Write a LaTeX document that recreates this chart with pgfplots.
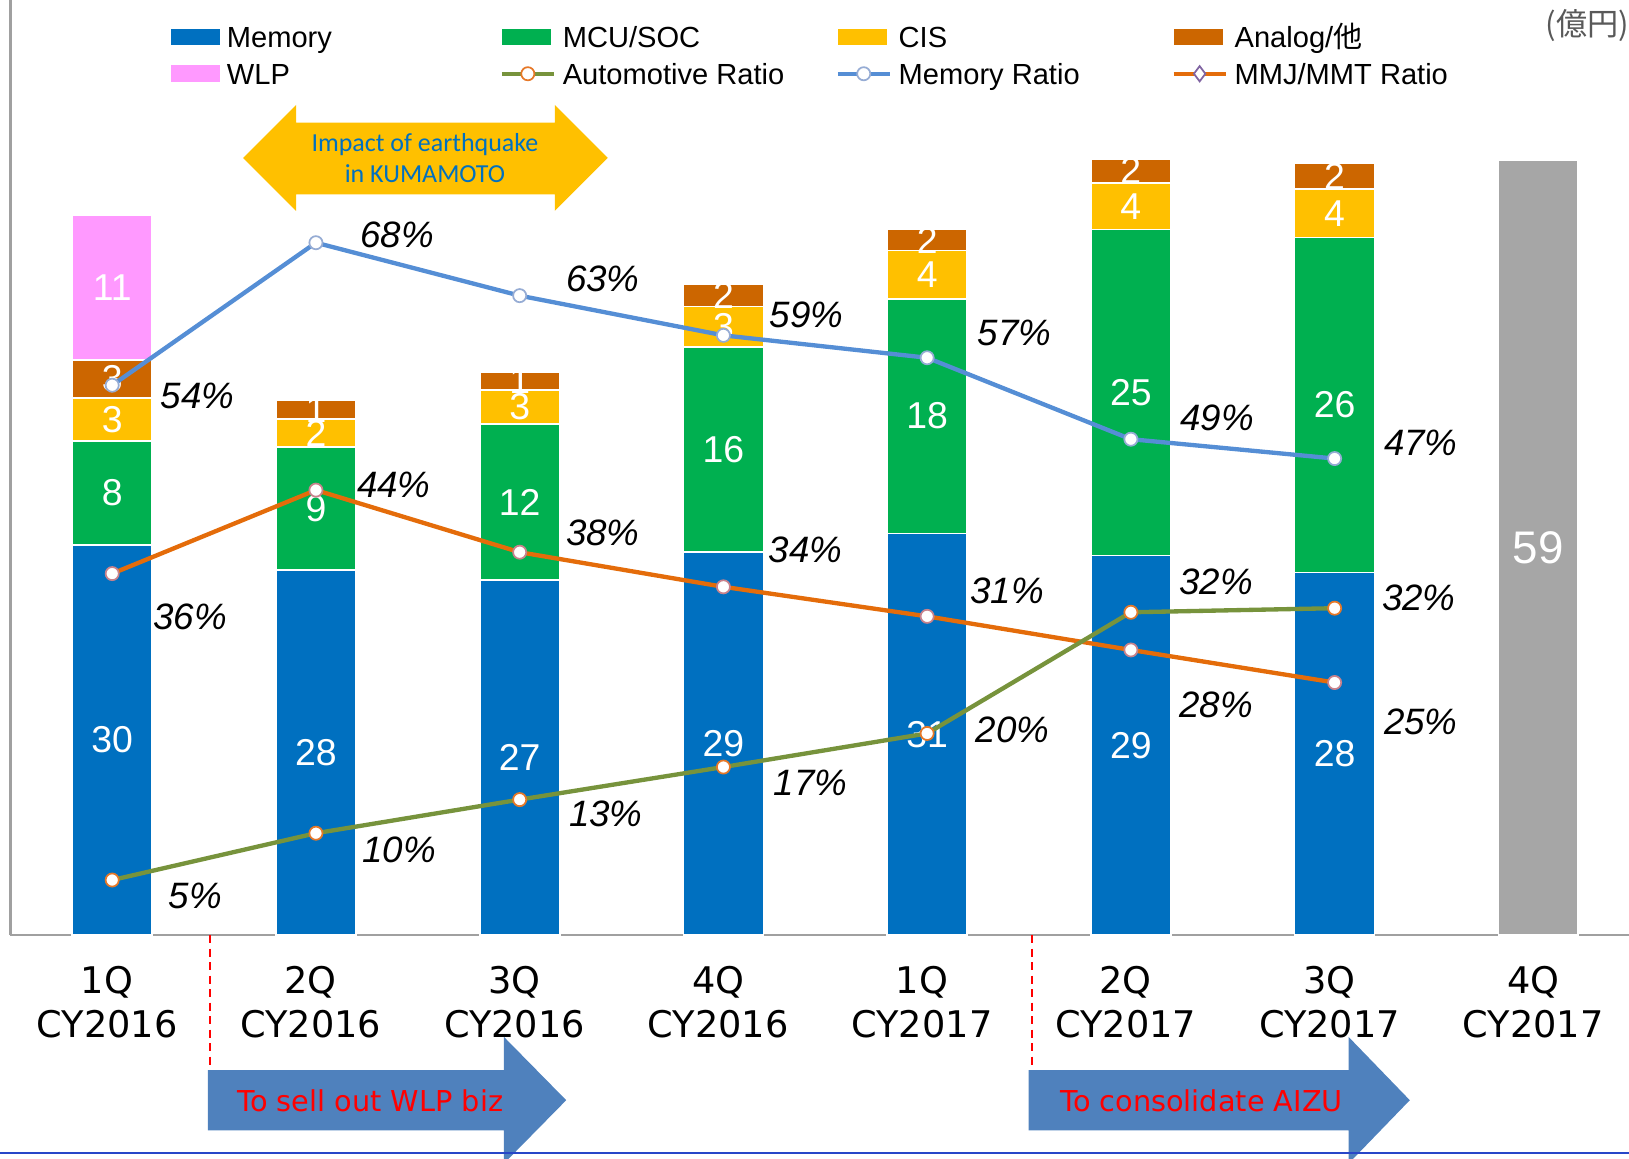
\documentclass[border=0pt]{standalone}
\usepackage{fontspec}
\setmainfont{Liberation Sans}
\newfontfamily\dejavu{DejaVu Sans}
\newfontfamily\carlito{Carlito}
\newfontfamily\cjk{Noto Sans CJK JP}
\usepackage{pgfplots}
\usepackage{pgfplotstable}
\pgfplotsset{compat=1.18}

\definecolor{memcol}{RGB}{0,112,192}
\definecolor{mcucol}{RGB}{0,176,80}
\definecolor{ciscol}{RGB}{255,192,0}
\definecolor{anacol}{RGB}{204,102,0}
\definecolor{wlpcol}{RGB}{255,153,255}
\definecolor{graycol}{RGB}{166,166,166}
\definecolor{memline}{RGB}{85,142,213}
\definecolor{memmark}{RGB}{150,172,212}
\definecolor{autoline}{RGB}{119,147,60}
\definecolor{automark}{RGB}{230,120,40}
\definecolor{mmjline}{RGB}{228,108,10}
\definecolor{mmjmark}{RGB}{200,130,140}
\definecolor{mmjleg}{RGB}{128,100,162}
\definecolor{axgray}{RGB}{160,160,160}
\definecolor{arrowblue}{RGB}{79,129,189}
\definecolor{txtblue}{RGB}{0,112,192}
\definecolor{botblue}{RGB}{40,70,200}

\pgfplotsset{
  barleg/.style={legend image code/.code={\path[##1, draw=none] (0pt,-2.4pt) rectangle (14.1pt,2.4pt);}},
  lineleg/.style={legend image code/.code={\draw[mark repeat=2,mark phase=2,##1] plot coordinates {(0pt,0pt) (7.5pt,0pt) (15pt,0pt)};}},
}
\newcommand{\lt}[1]{\makebox[80.8pt][l]{\hspace{2pt}#1\strut}}
\newcommand{\pctfont}{\fontsize{10.6}{12}\selectfont\itshape}

% Memory ratio / Automotive ratio / MMJ-MMT ratio (%), with label offsets (pt)
\pgfplotstableread{
x y lab dx dy
0 54.0 54 24.6 -3
1 68.0 68 23.4 2.4
2 62.8 63 24.0 4.8
3 58.9 59 24.0 6.0
4 56.7 57 25.2 7.2
5 48.7 49 24.9 6.3
6 46.8 47 24.9 4.5
}\memratio
\pgfplotstableread{
x y lab dx dy
0 5.4 5 24.0 -4.5
1 10.0 10 24.0 -4.8
2 13.3 13 24.9 -4.2
3 16.5 17 25.2 -4.5
4 19.8 20 24.6 0.9
5 31.7 32 24.6 8.7
6 32.1 32 24.3 3.0
}\autoratio
\pgfplotstableread{
x y lab dx dy
0 35.5 36 22.5 -12.6
1 43.7 44 22.5 1.5
2 37.6 38 24.0 5.7
3 34.2 34 23.7 10.8
4 31.3 31 23.1 7.5
5 28.0 28 24.6 -15.9
6 24.8 25 24.9 -11.4
}\mmjratio

\begin{document}
\begin{tikzpicture}
\useasboundingbox (-3pt,-64.5pt) rectangle (467.4pt,270pt);

\begin{axis}[
  at={(0,0)}, anchor=south west,
  width=467.4pt, height=270pt, scale only axis,
  xmin=-0.4997, xmax=7.445, ymin=0, ymax=71.71,
  ybar stacked, bar width=23.1pt,
  axis x line*=bottom, axis y line*=left,
  axis line style={draw=axgray, line width=0.7pt},
  ytick=\empty, xtick={0,1,2,3,4,5,6,7}, major tick length=0pt,
  xticklabels={{1Q\\CY2016},{2Q\\CY2016},{3Q\\CY2016},{4Q\\CY2016},{1Q\\CY2017},{2Q\\CY2017},{3Q\\CY2017},{4Q\\CY2017}},
  xticklabel style={align=center, font=\dejavu\fontsize{10.6}{12.6}\selectfont, yshift=-5.5pt, xshift=-1.5pt},
  clip=false,
  point meta=explicit symbolic,
  nodes near coords, nodes near coords align=center,
  every node near coord/.append style={text=white, font=\fontsize{10.8}{12}\selectfont},
]
\addplot[fill=memcol, draw=white, line width=0.5pt] coordinates {
(0,29.9)[30] (1,28.0)[28] (2,27.2)[27] (3,29.4)[29] (4,30.8)[31] (5,29.1)[29] (6,27.8)[28] (7,0)[{}]};
\addplot[fill=mcucol, draw=white, line width=0.5pt] coordinates {
(0,8.0)[8] (1,9.4)[9] (2,12.0)[12] (3,15.7)[16] (4,18.0)[18] (5,25.0)[25] (6,25.7)[26] (7,0)[{}]};
\addplot[fill=ciscol, draw=white, line width=0.5pt] coordinates {
(0,3.3)[3] (1,2.2)[2] (2,2.6)[3] (3,3.1)[3] (4,3.7)[4] (5,3.6)[4] (6,3.7)[4] (7,0)[{}]};
\addplot[fill=anacol, draw=white, line width=0.5pt] coordinates {
(0,2.9)[3] (1,1.4)[1] (2,1.4)[1] (3,1.75)[2] (4,1.6)[2] (5,1.8)[2] (6,2.0)[2] (7,0)[{}]};
\addplot[fill=wlpcol, draw=white, line width=0.5pt] coordinates {
(0,11.1)[11] (1,0)[{}] (2,0)[{}] (3,0)[{}] (4,0)[{}] (5,0)[{}] (6,0)[{}] (7,0)[{}]};
\addplot[fill=graycol, draw=white, line width=0.5pt,
  every node near coord/.append style={font=\fontsize{13.2}{15}\selectfont}] coordinates {
(0,0)[{}] (1,0)[{}] (2,0)[{}] (3,0)[{}] (4,0)[{}] (5,0)[{}] (6,0)[{}] (7,59.4)[59]};
\end{axis}

\begin{axis}[
  at={(0,0)}, anchor=south west,
  width=467.4pt, height=270pt, scale only axis,
  xmin=-0.4997, xmax=7.445, ymin=0, ymax=91.84,
  hide axis, clip=false,
  legend columns=4,
  legend cell align=left,
  legend style={draw=none, fill=none, inner sep=0pt, outer sep=0pt,
    nodes={inner sep=0pt}, column sep=0pt, row sep=1.5pt,
    font=\fontsize{8.4}{10.8}\selectfont,
    at={(0.0993,0.977)}, anchor=north west},
]
\addlegendimage{barleg, fill=memcol}\addlegendentry{\lt{Memory}}
\addlegendimage{barleg, fill=mcucol}\addlegendentry{\lt{MCU/SOC}}
\addlegendimage{barleg, fill=ciscol}\addlegendentry{\lt{CIS}}
\addlegendimage{barleg, fill=anacol}\addlegendentry{\lt{Analog/{\cjk 他}}}
\addlegendimage{barleg, fill=wlpcol}\addlegendentry{\lt{WLP}}
\addlegendimage{lineleg, autoline, line width=1.2pt, mark=*, mark size=1.9pt, mark options={fill=white, draw=automark, line width=0.5pt}}\addlegendentry{\lt{Automotive Ratio}}
\addlegendimage{lineleg, memline, line width=1.2pt, mark=*, mark size=1.9pt, mark options={fill=white, draw=memmark, line width=0.5pt}}\addlegendentry{\lt{Memory Ratio}}
\addlegendimage{lineleg, mmjline, line width=1.2pt, mark=diamond*, mark size=2.2pt, mark options={fill=white, draw=mmjleg, line width=0.5pt}}\addlegendentry{\lt{MMJ/MMT Ratio}}

\addplot[forget plot, memline, line width=1.25pt, mark=*, mark size=1.9pt,
  mark options={fill=white, draw=memmark, line width=0.5pt},
  point meta=explicit symbolic, nodes near coords={\pgfplotspointmeta\%}, nodes near coords align=center,
  visualization depends on={\thisrow{dx}\as\dx}, visualization depends on={\thisrow{dy}\as\dy},
  every node near coord/.append style={xshift=\dx pt, yshift=\dy pt, text=black, font=\pctfont}]
  table[x=x, y=y, meta=lab]{\memratio};
\addplot[forget plot, mmjline, line width=1.25pt, mark=*, mark size=1.9pt,
  mark options={fill=white, draw=mmjmark, line width=0.5pt},
  point meta=explicit symbolic, nodes near coords={\pgfplotspointmeta\%}, nodes near coords align=center,
  visualization depends on={\thisrow{dx}\as\dx}, visualization depends on={\thisrow{dy}\as\dy},
  every node near coord/.append style={xshift=\dx pt, yshift=\dy pt, text=black, font=\pctfont}]
  table[x=x, y=y, meta=lab]{\mmjratio};
\addplot[forget plot, autoline, line width=1.25pt, mark=*, mark size=1.9pt,
  mark options={fill=white, draw=automark, line width=0.5pt},
  point meta=explicit symbolic, nodes near coords={\pgfplotspointmeta\%}, nodes near coords align=center,
  visualization depends on={\thisrow{dx}\as\dx}, visualization depends on={\thisrow{dy}\as\dy},
  every node near coord/.append style={xshift=\dx pt, yshift=\dy pt, text=black, font=\pctfont}]
  table[x=x, y=y, meta=lab]{\autoratio};
\end{axis}

% earthquake double arrow
\fill[ciscol] (67.2pt,224.4pt) -- (82.5pt,239.7pt) -- (82.5pt,234.6pt) -- (157.2pt,234.6pt) -- (157.2pt,239.7pt)
  -- (172.5pt,224.4pt) -- (157.2pt,209.1pt) -- (157.2pt,213.9pt) -- (82.5pt,213.9pt) -- (82.5pt,209.1pt) -- cycle;
\node[align=center, text=txtblue, font=\carlito\fontsize{7.5}{9}\selectfont, inner sep=0pt] at (119.7pt,224.4pt)
  {Impact of earthquake\\in KUMAMOTO};

% unit
\node[anchor=west, text={rgb,255:red,89;green,89;blue,89}, font=\cjk\fontsize{9}{10}\selectfont, inner sep=0pt] at (443.1pt,262.5pt) {(億円)};

% separators
\draw[red, line width=0.6pt, dash pattern=on 2.4pt off 1.5pt] (57.6pt,0pt) -- (57.6pt,-40pt);
\draw[red, line width=0.6pt, dash pattern=on 2.4pt off 1.5pt] (294.9pt,0pt) -- (294.9pt,-40pt);

% bottom arrows
\fill[arrowblue] (57pt,-39pt) -- (142.5pt,-39pt) -- (142.5pt,-29.4pt) -- (160.5pt,-47.7pt) -- (142.5pt,-66pt)
  -- (142.5pt,-56.4pt) -- (57pt,-56.4pt) -- cycle;
\fill[arrowblue] (294pt,-39pt) -- (386.4pt,-39pt) -- (386.4pt,-29.4pt) -- (404.1pt,-47.7pt) -- (386.4pt,-66pt)
  -- (386.4pt,-56.4pt) -- (294pt,-56.4pt) -- cycle;
\node[anchor=west, text=red, font=\dejavu\fontsize{8.3}{10}\selectfont, inner sep=0pt] at (65.4pt,-48pt) {To sell out WLP biz};
\node[anchor=west, text=red, font=\dejavu\fontsize{8.3}{10}\selectfont, inner sep=0pt] at (303pt,-48pt) {To consolidate AIZU};

% bottom rule
\draw[botblue, line width=0.6pt] (-3pt,-63pt) -- (467.4pt,-63pt);
\end{tikzpicture}
\end{document}
